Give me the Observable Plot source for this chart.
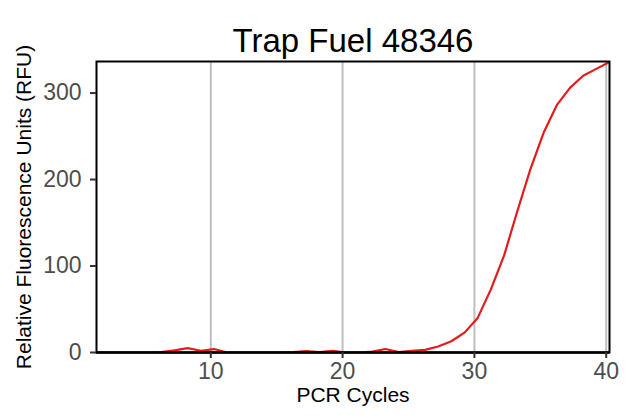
<!DOCTYPE html>
<html>
<head>
<meta charset="utf-8">
<script src="https://cdn.jsdelivr.net/npm/d3@7"></script>
<script src="https://cdn.jsdelivr.net/npm/@observablehq/plot@0.6"></script>
<style>
  body { margin: 0; background: #fff; }
  #chart { width: 628px; height: 418px; }
</style>
</head>
<body>
<div id="chart"></div>
<script>
const chartTitle = "Trap Fuel 48346";
const xLabel = "PCR Cycles";
const yLabel = "Relative Fluorescence Units (RFU)";

// x positions of the readings
const cycles = [1.25, 2.25, 3.25, 4.25, 5.25, 6.25, 7.25, 8.25, 9.25, 10.25,
                11.25, 12.25, 13.25, 14.25, 15.25, 16.25, 17.25, 18.25, 19.25, 20.25,
                21.25, 22.25, 23.25, 24.25, 25.25, 26.25, 27.25, 28.25, 29.25, 30.25,
                31.25, 32.25, 33.25, 34.25, 35.25, 36.25, 37.25, 38.25, 39.25, 40.25];
const rfu = [0, 0, 0, 0, 0, 0.5, 2.5, 5, 2, 4,
             0, 0, 0, 0, 0, 0.5, 1.5, 0.5, 2, 0,
             0, 1, 4, 0.5, 2, 3, 7, 13, 23, 40,
             73, 112, 163, 212, 254, 286, 306, 320, 328, 336];
const xTicks = [10, 20, 30, 40];
const yTicks = [0, 100, 200, 300];

const data = cycles.map((c, i) => ({cycle: c, value: rfu[i]}));

const plot = Plot.plot({
  width: 628,
  height: 418,
  marginTop: 61,
  marginBottom: 66,
  marginLeft: 96,
  marginRight: 19,
  style: {fontFamily: "'Liberation Sans', Arial, sans-serif", background: "#fff"},
  x: {domain: [1.33, 40.25]},
  y: {domain: [0, 336.5]},
  marks: [
    Plot.gridX(xTicks, {stroke: "#BEBEBE", strokeOpacity: 1, strokeWidth: 2}),
    Plot.line(data, {x: "cycle", y: "value", stroke: "#E41A1C", strokeWidth: 2.2, clip: true}),
    Plot.frame({stroke: "black", strokeWidth: 2}),
    Plot.ruleY([0], {stroke: "black", strokeWidth: 2.6}),
    Plot.axisX(xTicks, {tickSize: 6, tickPadding: 4, fontSize: 23, stroke: "#333", fill: "#4D4D4D", strokeWidth: 2, label: null}),
    Plot.axisY(yTicks, {tickSize: 6, tickPadding: 9, fontSize: 23, stroke: "#333", fill: "#4D4D4D", strokeWidth: 2, label: null}),
    Plot.text([chartTitle], {frameAnchor: "top", dy: -33, fontSize: 33, fill: "black"}),
    Plot.text([xLabel], {frameAnchor: "bottom", dy: 49.5, fontSize: 21, fill: "black"}),
    Plot.text([yLabel], {frameAnchor: "left", textAnchor: "middle", dx: -72, rotate: -90, fontSize: 21, fill: "black"})
  ]
});
document.getElementById("chart").appendChild(plot);
</script>
</body>
</html>
